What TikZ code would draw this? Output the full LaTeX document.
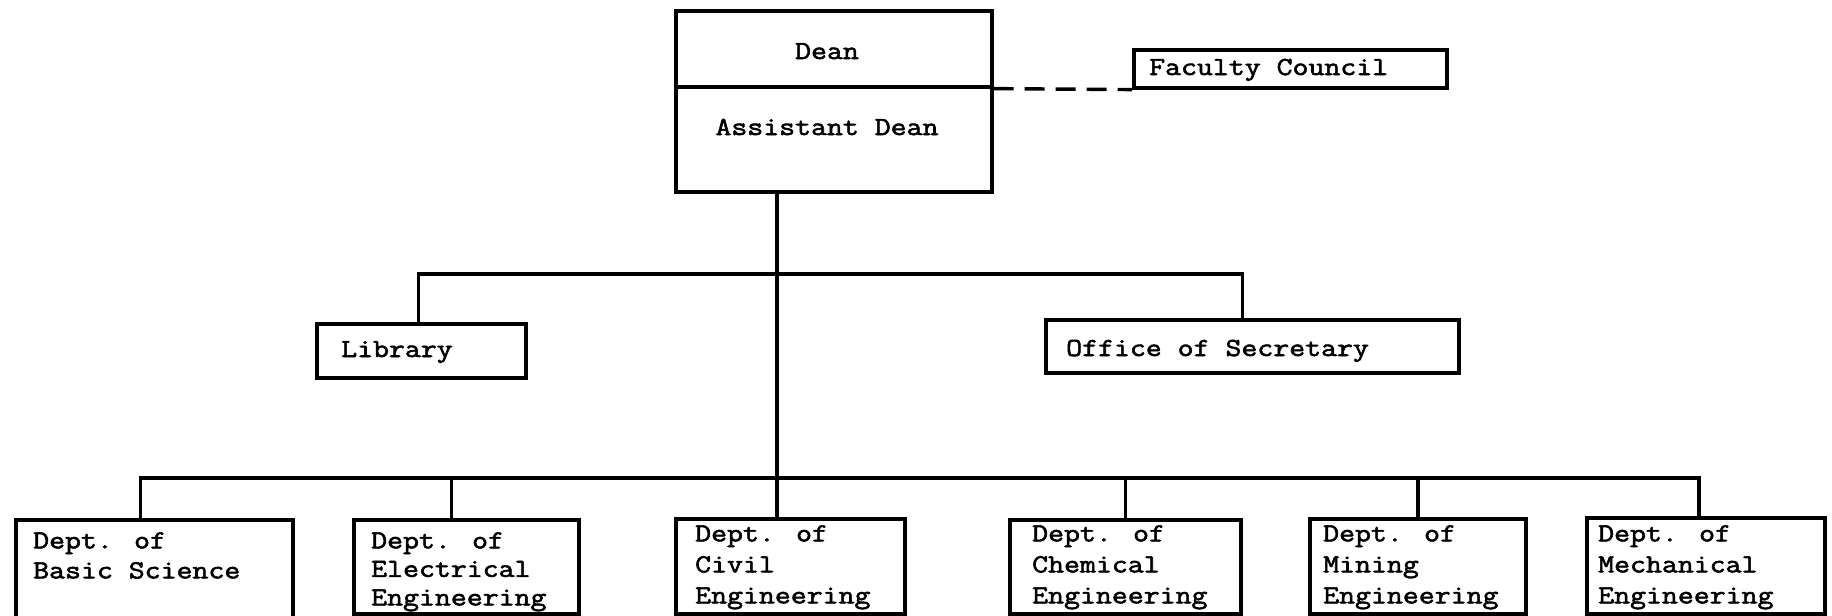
\documentclass[tikz,border=0pt]{standalone}
\usepackage{fontspec}
\newfontfamily\typewriter[FakeBold=2.2, FakeStretch=1.19]{Latin Modern Mono}
\begin{document}
\begin{tikzpicture}[x=1pt,y=-1pt,
  box/.style={draw, line width=3.6pt, inner sep=0pt, anchor=north west},
  txt/.style={font=\typewriter\fontsize{26}{31}\selectfont, inner sep=0pt, align=left},
  link/.style={line width=3.6pt},
  dashlink/.style={line width=3.4pt, dash pattern=on 20pt off 11pt}]
\useasboundingbox[fill=white] (0,0) rectangle (1832,616);

% Dean / Assistant Dean block
\node[box, minimum width=316pt, minimum height=76pt] (dean) at (674,9) {};
\node[box, minimum width=316pt, minimum height=105pt] (adean) at (674,85) {};
\node[txt, anchor=base] (deantxt) at (827,59) {Dean};
\node[txt, anchor=base] (adeantxt) at (827,135) {Assistant Dean};

% Faculty Council
\node[box, minimum width=313pt, minimum height=38pt] (fc) at (1132,48) {};
\node[txt, anchor=base west] (fctxt) at (1149,75) {Faculty Council};

% Staff offices
\node[box, minimum width=209pt, minimum height=54pt] (lib) at (315,322) {};
\node[txt, anchor=base west] (libtxt) at (341,357) {Library};
\node[box, minimum width=413pt, minimum height=53pt] (sec) at (1044,318) {};
\node[txt, anchor=base west] (sectxt) at (1066,356) {Office of Secretary};

% Departments
\node[box, minimum width=277pt, minimum height=100pt] (d1) at (14,518) {};
\node[txt, anchor=north west, font=\typewriter\fontsize{26}{30}\selectfont] (t1) at (33,532.1) {Dept. of\\Basic Science};
\node[box, minimum width=225pt, minimum height=94pt] (d2) at (352,518) {};
\node[txt, anchor=north west, font=\typewriter\fontsize{26}{28.5}\selectfont] (t2) at (371,532.1) {Dept. of\\Electrical\\Engineering};
\node[box, minimum width=229pt, minimum height=95pt] (d3) at (674,517) {};
\node[txt, anchor=north west] (t3) at (695,525.1) {Dept. of\\Civil\\Engineering};
\node[box, minimum width=231pt, minimum height=94pt] (d4) at (1008,518) {};
\node[txt, anchor=north west] (t4) at (1032,525.1) {Dept. of\\Chemical\\Engineering};
\node[box, minimum width=216pt, minimum height=95pt] (d5) at (1308,517) {};
\node[txt, anchor=north west] (t5) at (1323,525.1) {Dept. of\\Mining\\Engineering};
\node[box, minimum width=238pt, minimum height=96pt] (d6) at (1585,516) {};
\node[txt, anchor=north west] (t6) at (1598,525.1) {Dept. of\\Mechanical\\Engineering};

% Junctions of the trunk line
\coordinate (j1) at (777,274);
\coordinate (j2) at (777,478);

% Connectors
\draw[dashlink] (dean.south east) -- (fc.south west);
\draw[link] (adean.south -| j1) -- (j2);
\draw[link] ([xshift=-3pt]lib.north) |- (j1) -| ([xshift=-10pt]sec.north);
\draw[link] ([xshift=-14pt]d1.north) |- (j2) -| ([xshift=-7pt]d6.north);
\draw[link] ([xshift=-15pt]d2.north) -- ([xshift=-15pt]d2.north |- j2);
\draw[link] (d3.north -| j2) -- (j2);
\draw[link] (d4.north) -- (d4.north |- j2);
\draw[link] (d5.north) -- (d5.north |- j2);
\end{tikzpicture}
\end{document}
